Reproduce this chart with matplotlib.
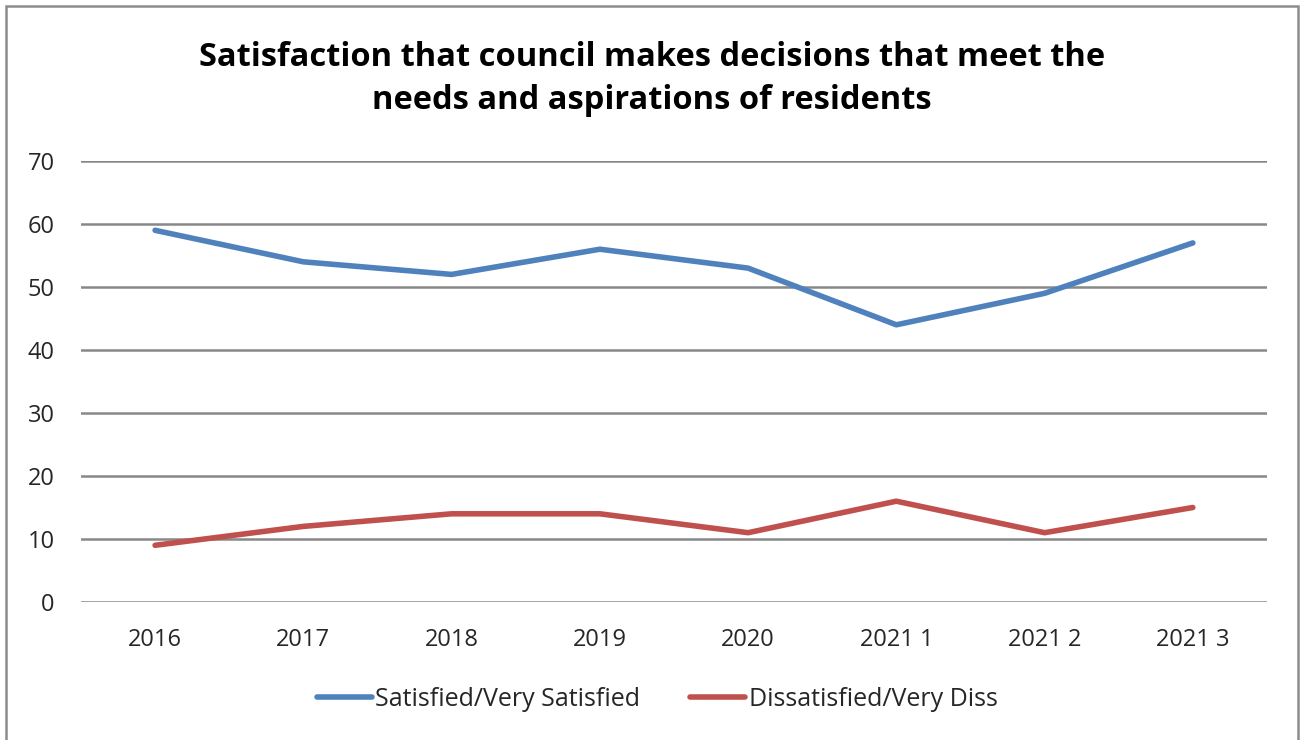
import matplotlib.pyplot as plt
from matplotlib.patches import Rectangle
from matplotlib.lines import Line2D

categories = ["2016", "2017", "2018", "2019", "2020", "2021 1", "2021 2", "2021 3"]
satisfied = [59, 54, 52, 56, 53, 44, 49, 57]
dissatisfied = [9, 12, 14, 14, 11, 16, 11, 15]
y_ticks = [0, 10, 20, 30, 40, 50, 60, 70]

BLUE = "#4F81BD"
RED = "#C0504D"
GRID = "#888888"
TEXT = "#262626"

plt.rcParams["font.family"] = ["Open Sans", "DejaVu Sans"]

fig = plt.figure(figsize=(13.04, 7.4), dpi=100)
ax = fig.add_axes([0.0621, 0.1865, 0.9095, 0.5959])

x = range(len(categories))
ax.plot(x, satisfied, color=BLUE, linewidth=4.0, solid_capstyle="round",
        label="Satisfied/Very Satisfied", zorder=3)
ax.plot(x, dissatisfied, color=RED, linewidth=4.0, solid_capstyle="round",
        label="Dissatisfied/Very Diss", zorder=3)

ax.set_xlim(-0.5, len(categories) - 0.5)
ax.set_ylim(0, 70)
ax.set_yticks(y_ticks)
ax.set_xticks(list(x))
ax.set_xticklabels(categories)
ax.yaxis.grid(True, color=GRID, linewidth=1.8)
ax.set_axisbelow(True)
for side in ["top", "right", "left", "bottom"]:
    ax.spines[side].set_visible(False)
ax.tick_params(axis="both", length=0, labelsize=17, colors=TEXT)
ax.tick_params(axis="x", pad=19)
ax.tick_params(axis="y", pad=19)

fig.text(0.5, 0.893,
         "Satisfaction that council makes decisions that meet the\nneeds and aspirations of residents",
         ha="center", va="center", fontsize=23.5, fontweight="bold", color="black",
         linespacing=1.42)

handles = [Line2D([], [], color=BLUE, linewidth=4.0, solid_capstyle="round"),
           Line2D([], [], color=RED, linewidth=4.0, solid_capstyle="round")]
fig.legend(handles, ["Satisfied/Very Satisfied", "Dissatisfied/Very Diss"],
           loc="center", bbox_to_anchor=(0.504, 0.055), ncol=2, frameon=False,
           fontsize=18, handlelength=2.2, handletextpad=0.15, columnspacing=2.0,
           labelcolor=TEXT)

# outer chart border
fig.patches.append(Rectangle((6 / 1304, -0.05), 1292 / 1304, 1.05 - 6 / 740,
                             transform=fig.transFigure, fill=False,
                             edgecolor="#8C8C8C", linewidth=1.8))

fig.savefig("out.png", dpi=100, facecolor="white")
